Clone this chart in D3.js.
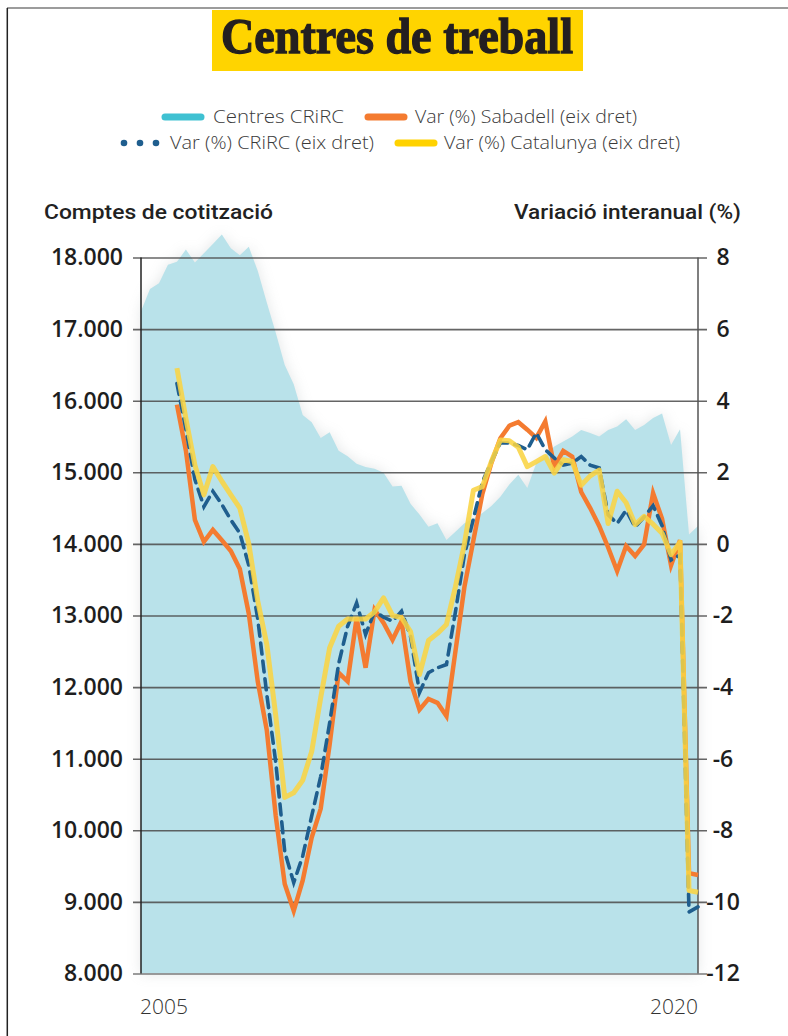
<!DOCTYPE html>
<html><head><meta charset="utf-8">
<script src="https://cdn.jsdelivr.net/npm/d3@7"></script>
<style>
html,body{margin:0;padding:0;background:#fff;}
svg{display:block;}
</style></head>
<body>
<svg id="chart" width="788" height="1036"></svg>
<script>
// ---------- DATA ----------
const title = "Centres de treball";
const leftAxisTitle = "Comptes de cotització";
const rightAxisTitle = "Variació interanual (%)";
const xLabels = ["2005", "2020"];
const leftTicks = [8000, 9000, 10000, 11000, 12000, 13000, 14000, 15000, 16000, 17000, 18000];
const rightTicks = [-12, -10, -8, -6, -4, -2, 0, 2, 4, 6, 8];
const seriesNames = ["Centres CRiRC", "Var (%) Sabadell (eix dret)", "Var (%) CRiRC (eix dret)", "Var (%) Catalunya (eix dret)"];

// quarters 2005T1 .. 2020T3
const quarters = d3.range(2005, 2021).flatMap(y => [1,2,3,4].map(q => y + "T" + q)).slice(0, 63);

const centresCRiRC = [
 17250,17560,17640,17900,17940,18110,17930,18060,18190,18320,
 18130,18030,18150,17810,17370,16950,16500,16230,15800,15700,
 15480,15560,15300,15225,15120,15075,15050,14995,14800,14811,
 14560,14410,14240,14290,14056,14170,14290,14350,14430,14530,
 14660,14830,14965,14780,15130,15220,15360,15430,15500,15590,
 15550,15500,15590,15640,15740,15590,15660,15760,15820,15380,
 15600,14130,14250];

const varSabadell = [
 null,null,null,null,3.89,2.6,0.67,0.06,0.39,0.1,
 -0.2,-0.7,-1.95,-3.85,-5.2,-7.6,-9.5,-10.25,-9.4,-8.2,
 -7.4,-5.6,-3.6,-3.84,-2.07,-3.46,-1.84,-2.21,-2.68,-2.16,
 -3.84,-4.63,-4.33,-4.44,-4.81,-3.0,-1.2,0.1,1.4,2.26,
 2.95,3.3,3.4,3.19,2.96,3.42,2.16,2.6,2.44,1.45,
 1.0,0.5,-0.1,-0.76,-0.06,-0.34,-0.02,1.42,0.7,-0.6,
 0.1,-9.2,-9.25];

const varCRiRC = [
 null,null,null,null,4.48,3.2,1.8,1.04,1.47,1.1,
 0.67,0.3,-0.6,-2.1,-4.2,-6.1,-8.6,-9.46,-8.72,-7.6,
 -6.5,-5.0,-3.35,-2.3,-1.65,-2.53,-1.88,-2.05,-2.16,-1.88,
 -2.58,-4.15,-3.6,-3.46,-3.37,-1.9,-0.3,0.7,1.73,2.3,
 2.82,2.82,2.75,2.63,3.1,2.63,2.4,2.2,2.26,2.44,
 2.2,2.12,0.81,0.57,0.94,0.47,0.75,1.07,0.51,-0.45,
 -0.31,-10.28,-10.14];

const varCatalunya = [
 null,null,null,null,4.91,3.5,2.2,1.37,2.16,1.75,
 1.37,1.0,0.0,-1.6,-2.8,-4.8,-7.08,-6.95,-6.6,-5.8,
 -4.3,-2.9,-2.3,-2.1,-2.1,-2.1,-1.9,-1.51,-2.0,-2.06,
 -2.45,-3.65,-2.7,-2.5,-2.25,-1.2,0.0,1.5,1.6,2.3,
 2.9,2.88,2.7,2.16,2.3,2.44,1.98,2.35,2.3,1.64,
 1.9,2.06,0.57,1.47,1.15,0.54,0.77,0.55,0.3,-0.3,
 0.05,-9.68,-9.73];

// ---------- STYLE / LAYOUT ----------
const colors = {area:"#b9e2ea", areaLegend:"#3fc1d2", sabadell:"#f47b30", crirc:"#1f5e8e", catalunya:"#f9d443", catLegend:"#ffd200"};
const svg = d3.select("#chart");
const plot = {left:141, right:698, top:257.5, bottom:973.5};

const x = d3.scaleLinear().domain([0, quarters.length - 1]).range([plot.left, plot.right]);
const yL = d3.scaleLinear().domain([8000, 18000]).range([plot.bottom, plot.top]);
const yR = d3.scaleLinear().domain([-12, 8]).range([plot.bottom, plot.top]);

const loc = d3.formatLocale({decimal:",", thousands:".", grouping:[3], currency:["","€"]});
const fmtL = loc.format(",d");

// frame
svg.append("line").attr("x1",7).attr("x2",788).attr("y1",8).attr("y2",8).attr("stroke","#9c9c9c").attr("stroke-width",2);
svg.append("line").attr("x1",7.3).attr("x2",7.3).attr("y1",8).attr("y2",1036).attr("stroke","#222").attr("stroke-width",1.5);

// title
svg.append("rect").attr("x",212).attr("y",10).attr("width",371).attr("height",61).attr("fill","#ffd400");
svg.append("text").attr("x",397).attr("y",53).attr("text-anchor","middle")
  .attr("font-family","'Liberation Serif','DejaVu Serif',serif").attr("font-weight","bold")
  .attr("font-size",50).attr("fill","#231f20").attr("stroke","#231f20").attr("stroke-width",1.3)
  .attr("textLength",352).attr("lengthAdjust","spacingAndGlyphs").text(title);

// legend
const lg = svg.append("g").attr("font-family","'Open Sans',sans-serif").attr("font-weight",300).attr("font-size",18).attr("fill","#3a3a3a");
function swatch(x1,x2,y,c){ lg.append("line").attr("x1",x1).attr("x2",x2).attr("y1",y).attr("y2",y).attr("stroke",c).attr("stroke-width",7).attr("stroke-linecap","round"); }
function ltext(xp,y,t,w){ lg.append("text").attr("x",xp).attr("y",y+6).attr("textLength",w).attr("lengthAdjust","spacingAndGlyphs").text(t); }
swatch(165,201,117,colors.areaLegend); ltext(213,117,seriesNames[0],131);
swatch(368,404,117,colors.sabadell); ltext(415,117,seriesNames[1],222);
[124,140,156].forEach(cx => lg.append("circle").attr("cx",cx).attr("cy",143).attr("r",3.3).attr("fill",colors.crirc));
ltext(170,143,seriesNames[2],204);
swatch(398,434,143,colors.catLegend); ltext(444,143,seriesNames[3],236);

// axis titles
const at = svg.append("g").attr("font-family","Roboto,'Noto Sans',sans-serif").attr("font-weight",500).attr("font-size",20).attr("fill","#222");
at.append("text").attr("x",44).attr("y",219).attr("textLength",229).attr("lengthAdjust","spacingAndGlyphs").text(leftAxisTitle);
at.append("text").attr("x",741).attr("y",219).attr("text-anchor","end").attr("textLength",227).attr("lengthAdjust","spacingAndGlyphs").text(rightAxisTitle);

// area glow + area
const defs = svg.append("defs");
defs.append("filter").attr("id","glow").attr("x","-10%").attr("y","-10%").attr("width","120%").attr("height","120%")
  .append("feGaussianBlur").attr("stdDeviation",7);
const area = d3.area().x((d,i)=>x(i)).y0(yL(8000)).y1(d=>yL(d));
svg.append("path").datum(centresCRiRC).attr("d",area).attr("fill","#a4acae").attr("opacity",0.3).attr("filter","url(#glow)");
svg.append("path").datum(centresCRiRC).attr("d",area).attr("fill",colors.area);

// gridlines via axis
const grid = svg.append("g").attr("transform",`translate(133,0)`)
  .call(d3.axisRight(yL).tickValues(leftTicks).tickSize(707-133).tickFormat(""));
grid.select(".domain").remove();
grid.selectAll(".tick line").attr("stroke","#4a4a4a").attr("stroke-width",1.6).attr("opacity",0.85);
grid.selectAll(".tick").filter(d=>d===8000).select("line").attr("stroke","#8a8a8a").attr("stroke-width",2);

// axis lines
svg.append("line").attr("x1",plot.left).attr("x2",plot.left).attr("y1",plot.top).attr("y2",plot.bottom).attr("stroke","#222").attr("stroke-width",1.5);
svg.append("line").attr("x1",plot.right).attr("x2",plot.right).attr("y1",plot.top).attr("y2",plot.bottom).attr("stroke","#555").attr("stroke-width",1.5);

// left labels
const la = svg.append("g").attr("transform","translate(123,0)")
  .call(d3.axisLeft(yL).tickValues(leftTicks).tickSize(0).tickPadding(0).tickFormat(fmtL));
la.select(".domain").remove();
la.selectAll("text").attr("font-family","'Open Sans',sans-serif").attr("font-weight",600).attr("font-size",23).attr("fill","#1e1e1e");

// right labels
const ra = svg.append("g").attr("transform","translate(723,0)")
  .call(d3.axisRight(yR).tickValues(rightTicks).tickSize(0).tickPadding(0).tickFormat(d=>d));
ra.select(".domain").remove();
ra.selectAll("text").attr("text-anchor","middle").attr("font-family","'Open Sans',sans-serif").attr("font-weight",600).attr("font-size",23).attr("fill","#1e1e1e");

// x labels
const xl = svg.append("g").attr("font-family","'Open Sans',sans-serif").attr("font-weight",300).attr("font-size",21).attr("fill","#333");
xl.append("text").attr("x",x(0)-1).attr("y",1014).text(xLabels[0]);
xl.append("text").attr("x",x(quarters.length-1)).attr("y",1014).attr("text-anchor","end").text(xLabels[1]);

// lines
const line = d3.line().defined(d=>d!==null).x((d,i)=>x(i)).y(d=>yR(d));
svg.append("path").datum(varSabadell).attr("d",line).attr("fill","none").attr("stroke",colors.sabadell).attr("stroke-width",4.5).attr("stroke-linejoin","miter");
svg.append("path").datum(varCRiRC).attr("d",line).attr("fill","none").attr("stroke",colors.crirc).attr("stroke-width",3.6).attr("stroke-dasharray","11,7").attr("stroke-linecap","round");
svg.append("path").datum(varCatalunya).attr("d",line).attr("fill","none").attr("stroke",colors.catalunya).attr("stroke-width",5).attr("stroke-opacity",0.88).attr("stroke-linejoin","round");
</script>
</body></html>
